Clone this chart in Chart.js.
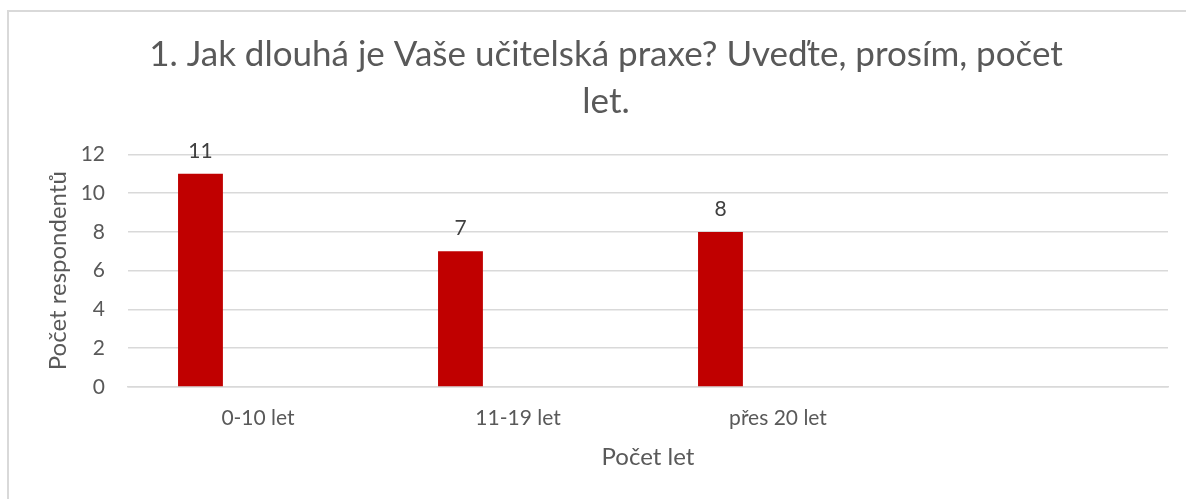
<!DOCTYPE html>
<html>
<head>
<meta charset="utf-8">
<script src="https://cdn.jsdelivr.net/npm/chart.js@4.4.1/dist/chart.umd.min.js"></script>
<style>
  body { margin: 0; background: #fff; }
  #frame {
    position: absolute; left: 7px; top: 10px; width: 1400px; height: 700px;
    border-top: 2px solid #d9d9d9; border-left: 2px solid #d9d9d9;
  }
  #wrap { position: absolute; left: 0; top: 0; width: 1186px; height: 499px; }
</style>
</head>
<body>
<div id="frame"></div>
<div id="wrap"><canvas id="barChart" width="1186" height="499"></canvas></div>
<script>
// data
const categories = ['0-10 let', '11-19 let', 'přes 20 let', ''];
const respondents = [11, 7, 8, null];
const emptySeries = [null, null, null, null]; // second series in the sheet, no values
const yTicks = [0, 2, 4, 6, 8, 10, 12];

const titleLines = ['1. Jak dlouhá je Vaše učitelská praxe? Uveďte, prosím, počet', 'let.'];

const textColor = '#595959';
const gridColor = '#d9d9d9';

// draws the numbers above the bars
const valueLabels = {
    id: 'valueLabels',
    afterDatasetsDraw(chart) {
        const ctx = chart.ctx;
        const meta = chart.getDatasetMeta(0);
        ctx.save();
        ctx.font = '21px Lato';
        ctx.fillStyle = '#404040';
        ctx.textAlign = 'center';
        ctx.textBaseline = 'middle';
        meta.data.forEach((bar, i) => {
            const v = chart.data.datasets[0].data[i];
            if (v == null) return;
            ctx.fillText(String(v), bar.x, bar.y - 23);
        });
        ctx.restore();
    }
};

const ctx = document.getElementById('barChart').getContext('2d');

const barChart = new Chart(ctx, {
    type: 'bar',
    data: {
        labels: categories,
        datasets: [
            {
                label: 'Počet respondentů',
                data: respondents,
                backgroundColor: '#c00000',
                categoryPercentage: 0.885,
                barPercentage: 0.39
            },
            {
                label: '',
                data: emptySeries,
                backgroundColor: '#c00000',
                categoryPercentage: 0.885,
                barPercentage: 0.39
            }
        ]
    },
    options: {
        responsive: false,
        animation: false,
        layout: { padding: { left: 44, right: 18, top: 10, bottom: 27 } },
        plugins: {
            legend: { display: false },
            tooltip: { enabled: false },
            title: {
                display: true,
                text: titleLines,
                color: textColor,
                font: { family: 'Lato', size: 35, weight: 'normal', lineHeight: 1.32 },
                padding: { top: 22, bottom: 30 }
            }
        },
        scales: {
            x: {
                grid: { display: false },
                border: { color: gridColor, width: 1.5 },
                ticks: { color: textColor, font: { family: 'Lato', size: 21 }, padding: 11 },
                title: {
                    display: true,
                    text: 'Počet let',
                    color: textColor,
                    font: { family: 'Lato', size: 24 },
                    padding: { top: 10, bottom: 0 }
                },
                afterFit(scale) { scale.height = 85; }
            },
            y: {
                min: 0,
                max: 12,
                afterBuildTicks(scale) { scale.ticks = yTicks.map(v => ({ value: v })); },
                grid: { color: gridColor, lineWidth: 1.5, drawTicks: false },
                border: { display: false },
                ticks: { color: textColor, font: { family: 'Lato', size: 21 }, padding: 23 },
                title: {
                    display: true,
                    text: 'Počet respondentů',
                    color: textColor,
                    font: { family: 'Lato', size: 24 },
                    padding: 0
                },
                afterFit(scale) { scale.width = 84; }
            }
        }
    },
    plugins: [valueLabels]
});
</script>
</body>
</html>
